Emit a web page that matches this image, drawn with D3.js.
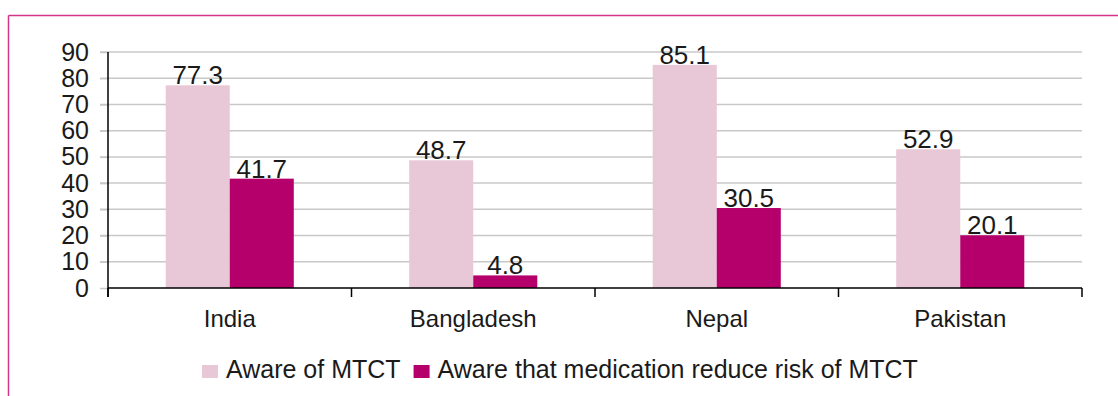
<!DOCTYPE html>
<html>
<head>
<meta charset="utf-8">
<script src="https://cdn.jsdelivr.net/npm/d3@7"></script>
<style>
  html, body { margin: 0; padding: 0; background: #fff; }
  svg { display: block; font-family: "Liberation Sans", Arial, sans-serif; }
</style>
</head>
<body>
<svg id="chart" width="1118" height="396"></svg>
<script>
// Awareness of mother-to-child transmission (MTCT), by country (%)
const countries = ["India", "Bangladesh", "Nepal", "Pakistan"];
const seriesNames = ["Aware of MTCT", "Aware that medication reduce risk of MTCT"];
const awareMTCT = [77.3, 48.7, 85.1, 52.9];
const awareMedication = [41.7, 4.8, 30.5, 20.1];
const yTicks = [0, 10, 20, 30, 40, 50, 60, 70, 80, 90];
const seriesColors = ["#E8C8D6", "#B5006B"];

const svg = d3.select("#chart");
const margin = { left: 108, right: 36, top: 52, bottom: 108 };
const W = 1118, H = 396;
const innerW = W - margin.left - margin.right;
const innerH = H - margin.top - margin.bottom;

// Frame lines (top and left)
svg.append("line").attr("x1", 8.5).attr("x2", W).attr("y1", 15.5).attr("y2", 15.5)
  .attr("stroke", "#D2358A").attr("stroke-width", 1.5);
svg.append("line").attr("x1", 8.5).attr("x2", 8.5).attr("y1", 15.5).attr("y2", H)
  .attr("stroke", "#D2358A").attr("stroke-width", 1.5);

const g = svg.append("g").attr("transform", `translate(${margin.left},${margin.top})`);

const gap = 0.474;
const x0 = d3.scaleBand().domain(countries).range([0, innerW])
  .paddingInner(gap).paddingOuter(gap / 2);
const x1 = d3.scaleBand().domain([0, 1]).range([0, x0.bandwidth()]);
const y = d3.scaleLinear().domain([0, 90]).range([innerH, 0]);

// Gridlines with outward tick marks
g.append("g")
  .selectAll("line")
  .data(yTicks.filter(t => t > 0))
  .join("line")
  .attr("x1", -8).attr("x2", innerW)
  .attr("y1", d => y(d)).attr("y2", d => y(d))
  .attr("stroke", "#C8C8C8").attr("stroke-width", 1.5);

// Y axis labels
const yAxis = g.append("g").call(
  d3.axisLeft(y).tickValues(yTicks).tickSize(8).tickPadding(11).tickFormat(d3.format("d"))
);
yAxis.select(".domain").remove();
yAxis.selectAll(".tick line").attr("stroke", "#C8C8C8").attr("stroke-width", 1.5);
yAxis.selectAll(".tick text").attr("font-size", 25).attr("fill", "#1a1a1a")
  .attr("font-family", "Liberation Sans, Arial, sans-serif");

// Bars
const data = countries.map((c, i) => ({ country: c, values: [awareMTCT[i], awareMedication[i]] }));
const groups = g.append("g").selectAll("g")
  .data(data).join("g")
  .attr("transform", d => `translate(${x0(d.country)},0)`);

groups.selectAll("rect")
  .data(d => d.values.map((v, k) => ({ k, v })))
  .join("rect")
  .attr("x", d => x1(d.k))
  .attr("width", x1.bandwidth())
  .attr("y", d => y(d.v))
  .attr("height", d => innerH - y(d.v))
  .attr("fill", d => seriesColors[d.k]);

groups.selectAll("text.val")
  .data(d => d.values.map((v, k) => ({ k, v })))
  .join("text")
  .attr("class", "val")
  .attr("x", d => x1(d.k) + x1.bandwidth() / 2)
  .attr("y", d => y(d.v) - 1)
  .attr("text-anchor", "middle")
  .attr("font-size", 26)
  .attr("fill", "#1a1a1a")
  .text(d => d3.format(".1f")(d.v));

// Y axis line
g.append("line").attr("x1", 0).attr("x2", 0).attr("y1", 0).attr("y2", innerH + 9)
  .attr("stroke", "#000").attr("stroke-width", 1.5);

// X axis with boundary ticks between categories
g.append("line").attr("x1", 0).attr("x2", innerW).attr("y1", innerH).attr("y2", innerH)
  .attr("stroke", "#000").attr("stroke-width", 1.5);
const step = x0.step();
const boundaries = d3.range(countries.length + 1).map(i => i * step);
g.append("g").selectAll("line").data(boundaries).join("line")
  .attr("x1", d => d).attr("x2", d => d)
  .attr("y1", innerH).attr("y2", innerH + 9)
  .attr("stroke", "#000").attr("stroke-width", 1.5);

// Category labels
g.append("g").selectAll("text").data(countries).join("text")
  .attr("x", d => x0(d) + x0.bandwidth() / 2)
  .attr("y", innerH + 39)
  .attr("text-anchor", "middle")
  .attr("font-size", 24)
  .attr("fill", "#1a1a1a")
  .text(d => d);

// Legend
const legend = svg.append("g").attr("transform", "translate(202,0)");
let lx = 0;
seriesNames.forEach((name, k) => {
  legend.append("rect").attr("x", lx).attr("y", 365).attr("width", 16).attr("height", 13)
    .attr("fill", seriesColors[k]);
  const t = legend.append("text").attr("x", lx + 24).attr("y", 378)
    .attr("font-size", 25).attr("fill", "#1a1a1a").text(name);
  lx += 24 + t.node().getComputedTextLength() + 13;
});
</script>
</body>
</html>
